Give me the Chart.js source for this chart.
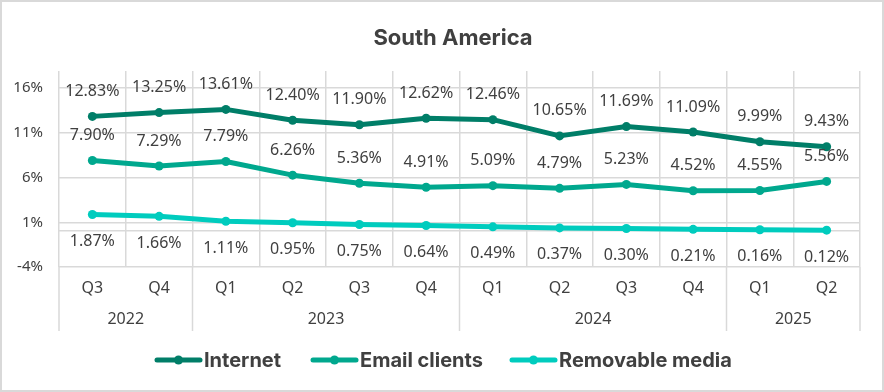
<!DOCTYPE html>
<html><head><meta charset="utf-8">
<script src="https://cdn.jsdelivr.net/npm/chart.js@4/dist/chart.umd.min.js"></script>
<style>
html,body{margin:0;padding:0;background:#fff;}
#wrap{position:relative;width:884px;height:392px;}
</style>
</head><body>
<div id="wrap"><canvas id="c" width="884" height="392"></canvas></div>
<script>
const quarters = ["Q3","Q4","Q1","Q2","Q3","Q4","Q1","Q2","Q3","Q4","Q1","Q2"];
const years = [{label:"2022",start:0,end:1},{label:"2023",start:2,end:5},{label:"2024",start:6,end:9},{label:"2025",start:10,end:11}];
const internet = [12.83,13.25,13.61,12.40,11.90,12.62,12.46,10.65,11.69,11.09,9.99,9.43];
const emailClients = [7.90,7.29,7.79,6.26,5.36,4.91,5.09,4.79,5.23,4.52,4.55,5.56];
const removableMedia = [1.87,1.66,1.11,0.95,0.75,0.64,0.49,0.37,0.30,0.21,0.16,0.12];
const yTicks = [-4,0,1,6,11,16];
const seriesNames = ["Internet","Email clients","Removable media"];
const colors = ["#007E68","#00A88E","#00CCBE"];

const labelFont = '16px "Noto Sans", sans-serif';
const textColor = '#404040';
const gridColor = '#D9D9D9';

const overlay = {
  id:'overlay',
  beforeDraw(chart){
    const ctx = chart.ctx;
    ctx.save();
    ctx.fillStyle='#fff';
    ctx.fillRect(0,0,chart.width,chart.height);
    ctx.strokeStyle=gridColor; ctx.lineWidth=2;
    ctx.strokeRect(1,1,chart.width-2,chart.height-2);
    ctx.restore();
  },
  afterDraw(chart){
    const ctx = chart.ctx;
    const xs = chart.scales.x, ys = chart.scales.y;
    const area = chart.chartArea;
    const step = xs.getPixelForValue(1) - xs.getPixelForValue(0);
    ctx.save();
    // title
    ctx.fillStyle = textColor;
    ctx.font = 'bold 22px Inter, sans-serif';
    ctx.textAlign='center'; ctx.textBaseline='middle';
    ctx.fillText('South America', 453, 38);
    // category axis
    const bottom = area.bottom;
    ctx.strokeStyle = gridColor; ctx.lineWidth = 1.5;
    const bounds = [];
    years.forEach(y=>{ bounds.push(xs.getPixelForValue(y.start)-step/2); });
    bounds.push(xs.getPixelForValue(years[years.length-1].end)+step/2);
    bounds.forEach(b=>{
      ctx.beginPath(); ctx.moveTo(b,bottom); ctx.lineTo(b,bottom+64); ctx.stroke();
    });
    ctx.fillStyle = textColor;
    ctx.font = '16px "Noto Sans", sans-serif';
    quarters.forEach((q,i)=>{
      ctx.fillText(q, xs.getPixelForValue(i), bottom+21);
    });
    years.forEach(y=>{
      const cx = (xs.getPixelForValue(y.start)+xs.getPixelForValue(y.end))/2;
      ctx.fillText(y.label, cx, bottom+52);
    });
    // data labels
    ctx.font = labelFont;
    const sets = [internet, emailClients, removableMedia];
    sets.forEach((arr,si)=>{
      const meta = chart.getDatasetMeta(si);
      meta.data.forEach((pt,i)=>{
        const dy = si===2 ? 27 : -25;
        ctx.fillText(arr[i].toFixed(2)+'%', pt.x, pt.y+dy);
      });
    });
    // legend
    ctx.font = 'bold 20px Inter, sans-serif';
    ctx.textAlign='left';
    const legendX = [157, 313, 512];
    const ly = 360;
    seriesNames.forEach((n,si)=>{
      const x0 = legendX[si];
      ctx.strokeStyle = colors[si]; ctx.lineWidth = 5; ctx.lineCap='round';
      ctx.beginPath(); ctx.moveTo(x0,ly); ctx.lineTo(x0+43,ly); ctx.stroke();
      ctx.fillStyle = colors[si];
      ctx.beginPath(); ctx.arc(x0+21.5,ly,4.5,0,Math.PI*2); ctx.fill();
      ctx.fillStyle = textColor;
      ctx.fillText(n, x0+47, ly+1);
    });
    ctx.restore();
  }
};

new Chart(document.getElementById('c'), {
  type:'line',
  data:{
    labels: quarters.map((q,i)=>q+'-'+i),
    datasets:[internet,emailClients,removableMedia].map((d,i)=>({
      label: seriesNames[i], data: d,
      borderColor: colors[i], backgroundColor: colors[i],
      borderWidth: 5, pointRadius: 4.5, pointHoverRadius: 4.5,
      pointBackgroundColor: colors[i], pointBorderWidth: 0,
      tension: 0, borderCapStyle:'round', borderJoinStyle:'round'
    }))
  },
  options:{
    responsive:false, animation:false, devicePixelRatio:1,
    layout:{padding:{left:0,right:24,top:71,bottom:125}},
    plugins:{legend:{display:false},title:{display:false},tooltip:{enabled:false}},
    scales:{
      x:{
        offset:true,
        grid:{offset:true,color:gridColor,lineWidth:1.5,drawTicks:false},
        border:{display:false},
        ticks:{display:false},
        afterFit(s){ s.height = 0; }
      },
      y:{
        min:-4, max:17.9,
        afterBuildTicks(s){ s.ticks = yTicks.map(v=>({value:v})); },
        grid:{color:gridColor,lineWidth:1.5,drawTicks:false},
        border:{display:false},
        ticks:{
          padding:16, color:textColor,
          font:{family:'"Noto Sans", sans-serif', size:15},
          callback:(v)=> v===0 ? '' : v+'%'
        },
        afterFit(s){ s.width = 59; }
      }
    }
  },
  plugins:[overlay]
});
</script>
</body></html>
